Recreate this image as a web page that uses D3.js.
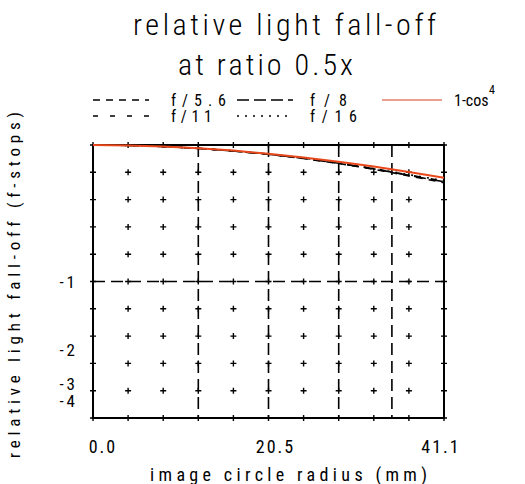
<!DOCTYPE html>
<html lang="en">
    <head>
        <meta charset="utf-8">
        <title>relative light fall-off</title>
        <script type="text/javascript" src="https://d3js.org/d3.v7.min.js"></script>
        <style type="text/css">
           html, body { margin:0; padding:0; overflow:hidden; background:#fff }
           svg { display:block }
           text { font-family: "Roboto Condensed", "Liberation Sans Narrow", "DejaVu Sans Condensed", "Liberation Sans", sans-serif; font-weight:300; fill:#000 }
           text.small { font-weight:400 }
        </style>
    </head>
    <body>
        <script type="text/javascript">

          // size of the page and plot box
          var width = 525;
          var height = 484;
          var box = {left: 93, right: 444, top: 145, bottom: 418};

          // data: image circle radius (mm) and fall-off in f-stops
          var radius = [0, 4.11, 8.22, 12.33, 16.44, 20.55, 24.66, 28.77, 32.88, 36.99, 41.1];
          var f56  = [0, -0.002, -0.008, -0.018, -0.032, -0.050, -0.073, -0.101, -0.134, -0.173, -0.214];
          var f8   = [0, -0.002, -0.008, -0.018, -0.032, -0.050, -0.072, -0.100, -0.132, -0.170, -0.209];
          var f11  = [0, -0.002, -0.008, -0.018, -0.032, -0.049, -0.071, -0.099, -0.131, -0.168, -0.205];
          var f16  = [0, -0.002, -0.008, -0.018, -0.031, -0.049, -0.071, -0.098, -0.130, -0.166, -0.202];
          var cos4 = [0, -0.002, -0.008, -0.017, -0.030, -0.047, -0.067, -0.091, -0.119, -0.150, -0.184];

          // axis labels / grid
          var xTickValues = [0, 20.55, 41.1];
          var xTickLabels = ["0.0", "20.5", "41.1"];
          var xTickShift = [10, 7, -3];
          var yTickStops = [-1, -2, -3, -4];
          var gridX = [12.33, 20.55, 28.77, 35.0];
          var gridStops = [-1];

          // legend
          var series = [
            {name: "f/5.6", values: f56, dash: "7,6",  color: "#000", col: 0, row: 0, w: 55},
            {name: "f/8",   values: f8,  dash: "12,5", color: "#000", col: 1, row: 0, w: 37},
            {name: "f/11",  values: f11, dash: "5,12", color: "#000", col: 0, row: 1, w: 41},
            {name: "f/16",  values: f16, dash: "2,6",  color: "#000", col: 1, row: 1, w: 47},
            {name: "1-cos", values: cos4, dash: null,  color: "#e8481c", col: 2, row: 0, w: null}
          ];

          var svg = d3.select("body").append("svg")
             .attr("width", width).attr("height", height);

          // scales: x in mm, y linear in relative light (2^stops)
          var x = d3.scaleLinear().domain([0, 41.1]).range([box.left, box.right]);
          var y = d3.scaleLinear().domain([0, 1]).range([box.bottom, box.top]);
          var ys = function(s) { return y(Math.pow(2, s)); };

          // title
          svg.append("text").attr("x", 133).attr("y", 35)
             .attr("font-size", 30).attr("textLength", 303).attr("lengthAdjust", "spacing")
             .text("relative light fall-off");
          svg.append("text").attr("x", 178).attr("y", 75)
             .attr("font-size", 30).attr("textLength", 175).attr("lengthAdjust", "spacing")
             .text("at ratio 0.5x");

          // dashed grid lines
          svg.selectAll("line.gx").data(gridX).enter().append("line")
             .attr("class", "gx")
             .attr("x1", function(d) {return x(d);}).attr("x2", function(d) {return x(d);})
             .attr("y1", box.top).attr("y2", box.bottom)
             .attr("stroke", "#000").attr("stroke-width", 1.6).attr("stroke-dasharray", "12,6");
          svg.selectAll("line.gy").data(gridStops).enter().append("line")
             .attr("class", "gy")
             .attr("x1", box.left).attr("x2", box.right)
             .attr("y1", function(d) {return ys(d);}).attr("y2", function(d) {return ys(d);})
             .attr("stroke", "#000").attr("stroke-width", 1.6).attr("stroke-dasharray", "12,6");

          // plus marks at every grid node
          var nodes = [];
          y.ticks(10).forEach(function(v) {
            radius.forEach(function(r) { nodes.push([r, v]); });
          });
          var plus = svg.append("g");
          plus.selectAll("path").data(nodes).enter().append("path")
             .attr("d", function(d) {
               var px = x(d[0]), py = y(d[1]);
               return "M" + (px - 3) + "," + py + "H" + (px + 3) +
                      "M" + px + "," + (py - 3) + "V" + (py + 3);
             })
             .attr("stroke", "#000").attr("stroke-width", 1.4);

          // box
          svg.append("rect")
             .attr("x", box.left).attr("y", box.top)
             .attr("width", box.right - box.left).attr("height", box.bottom - box.top)
             .attr("fill", "none").attr("stroke", "#000").attr("stroke-width", 2);

          // curves
          var line = d3.line()
             .x(function(d, i) {return x(radius[i]);})
             .y(function(d) {return ys(d);});
          svg.selectAll("path.curve").data(series).enter().append("path")
             .attr("class", "curve")
             .attr("d", function(d) {return line(d.values);})
             .attr("fill", "none")
             .attr("stroke", function(d) {return d.color;})
             .attr("stroke-width", function(d) {return d.dash ? 1.6 : 2;})
             .attr("stroke-dasharray", function(d) {return d.dash;});

          // axis tick labels
          svg.selectAll("text.xl").data(xTickValues).enter().append("text")
             .attr("class", "xl small")
             .attr("x", function(d, i) {return x(d) + xTickShift[i];}).attr("y", 453)
             .attr("text-anchor", "middle").attr("font-size", 18)
             .attr("letter-spacing", 2)
             .text(function(d, i) {return xTickLabels[i];});
          svg.selectAll("text.yl").data(yTickStops).enter().append("text")
             .attr("class", "yl small")
             .attr("x", 78).attr("y", function(d) {return ys(d);})
             .attr("dy", "0.36em")
             .attr("text-anchor", "end").attr("font-size", 17)
             .attr("letter-spacing", 3)
             .text(function(d) {return d;});

          // axis titles
          svg.append("text").attr("class", "small").attr("x", 150).attr("y", 481)
             .attr("font-size", 18).attr("textLength", 277).attr("lengthAdjust", "spacing")
             .text("image circle radius (mm)");
          svg.append("text").attr("class", "small")
             .attr("transform", "translate(20,458) rotate(-90)")
             .attr("font-size", 17).attr("textLength", 346).attr("lengthAdjust", "spacing")
             .text("relative light fall-off (f-stops)");

          // legend
          var colX = [93, 237, 382];
          var rowY = [100, 116];
          var textX = [171, 310, 454];
          var leg = svg.append("g");
          leg.selectAll("line").data(series).enter().append("line")
             .attr("x1", function(d) {return colX[d.col];})
             .attr("x2", function(d) {return colX[d.col] + (d.dash ? 56 : 60);})
             .attr("y1", function(d) {return rowY[d.row];})
             .attr("y2", function(d) {return rowY[d.row];})
             .attr("stroke", function(d) {return d.dash ? d.color : "#e8806a";})
             .attr("stroke-width", 1.6)
             .attr("stroke-dasharray", function(d) {return d.dash;});
          leg.selectAll("text").data(series).enter().append("text")
             .attr("class", "small")
             .attr("x", function(d) {return textX[d.col];})
             .attr("y", function(d) {return rowY[d.row] + 6;})
             .attr("font-size", 16)
             .attr("textLength", function(d) {return d.w;})
             .attr("lengthAdjust", "spacing")
             .text(function(d) {return d.name;});
          leg.append("text").attr("class", "small").attr("x", 489).attr("y", 94)
             .attr("font-size", 12).text("4");

        </script>
    </body>
</html>
